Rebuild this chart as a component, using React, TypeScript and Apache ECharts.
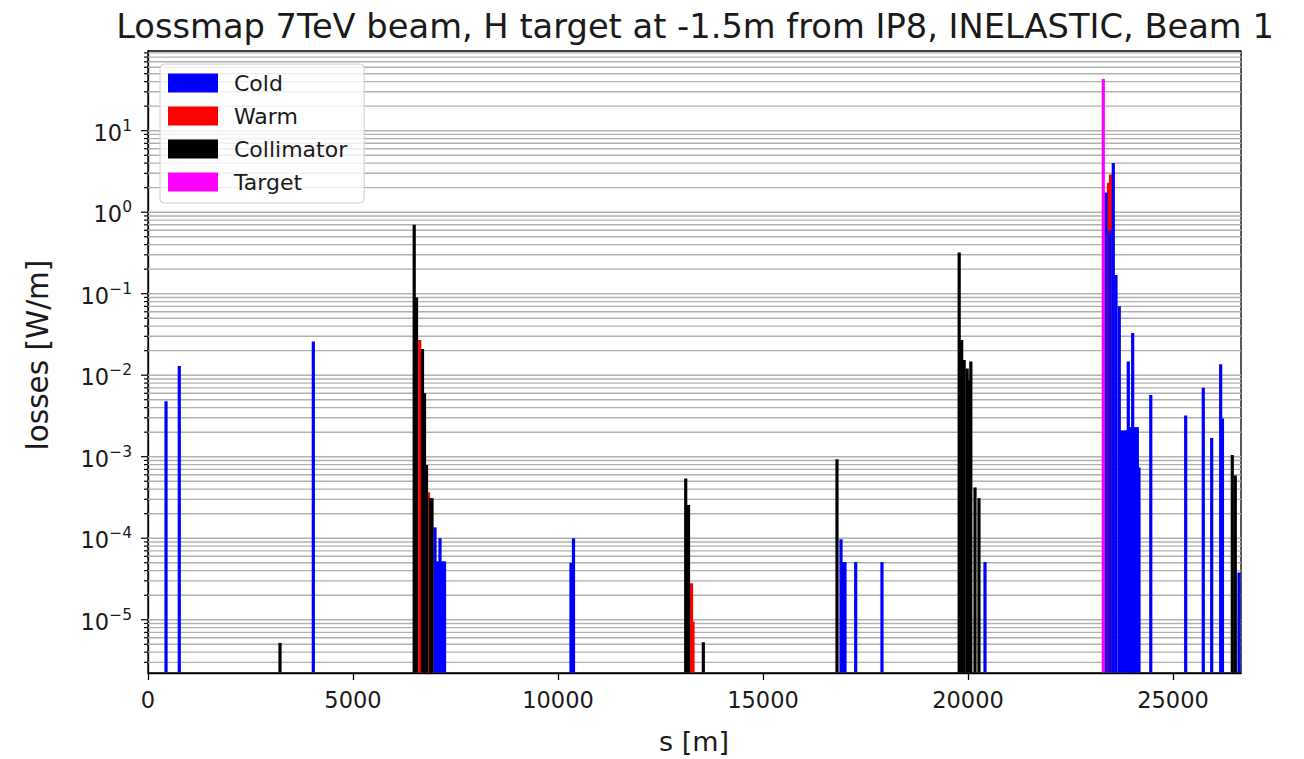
import React, { useEffect, useRef } from 'react';
import * as echarts from 'echarts';

const TITLE = 'Lossmap 7TeV beam, H target at -1.5m from IP8, INELASTIC, Beam 1';
const X_NAME = 's [m]';
const Y_NAME = 'losses [W/m]';
const X_TICKS = [0, 5000, 10000, 15000, 20000, 25000];
const Y_EXPONENTS = [-5, -4, -3, -2, -1, 0, 1];
const Y_MINOR_FACTORS = [2, 3, 4, 5, 6, 7, 8, 9];
const X_MAX = 26659;
const Y_MIN = 2.22e-6;
const Y_MAX = 95;

const LEGEND = ['Cold', 'Warm', 'Collimator', 'Target'];

const coldS = [440, 763, 4032, 7000, 7061, 7122, 7183, 7232, 10317, 10378, 16903, 16939, 17000, 17261, 17902, 20415,
  23366, 23463, 23544, 23610, 23690, 23730, 23790, 23850, 23880, 23910, 23945, 23985, 24017, 24050, 24090, 24130, 24171, 24458,
  25310, 25739, 25944, 26163, 26207, 26610];
const coldV = [4.8e-3, 1.3e-2, 2.6e-2, 1.36e-4, 5.2e-5, 1.0e-4, 5.2e-5, 5.2e-5, 5.0e-5, 1.0e-4, 9.7e-5, 5.1e-5, 5.1e-5, 5.1e-5, 5.1e-5, 5.1e-5,
  1.75, 0.6, 4.0, 0.17, 0.07, 2.1e-3, 2.1e-3, 2.1e-3, 2.1e-3, 1.47e-2, 2.3e-3, 2.3e-3, 3.3e-2, 2.3e-3, 2.3e-3, 2.3e-3, 7.4e-4, 5.7e-3,
  3.2e-3, 7.0e-3, 1.7e-3, 1.36e-2, 2.95e-3, 3.8e-5];

const warmS = [6627, 6841, 13256, 13293, 23427, 23476];
const warmV = [0.027, 3.66e-4, 2.8e-5, 9.5e-6, 2.3, 2.9];

const collS = [3220, 6493, 6549, 6695, 6744, 6793, 6890, 6927, 13115, 13183, 13545, 16805,
  19785, 19846, 19907, 19980, 20025, 20069, 20171, 20268, 26446, 26520];
const collV = [5.2e-6, 0.70, 0.09, 0.021, 6.0e-3, 7.9e-4, 3.1e-4, 3.1e-4, 5.4e-4, 2.55e-4, 5.3e-6, 9.3e-4,
  0.32, 0.027, 0.0154, 0.0121, 8.7e-3, 0.0147, 4.2e-4, 3.1e-4, 1.05e-3, 5.9e-4];

const targetS = [23300];
const targetV = [43];

const COLORS = { Cold: '#0000ff', Warm: '#ff0000', Collimator: '#000000', Target: '#ff00ff' };
const FONT = 'DejaVu Sans';
const TEXT = '#1a1a1a';
const BAR_PX = 3.2;

const zip = (s: number[], v: number[]) => s.map((x, i) => [x, v[i]]);

function barRenderer(color: string) {
  return (params: any, api: any) => {
    const s = api.value(0);
    const v = api.value(1);
    const top = api.coord([s, v]);
    const cs = params.coordSys;
    const bottom = cs.y + cs.height - 0.6;
    return {
      type: 'rect',
      shape: { x: top[0] - BAR_PX / 2, y: top[1], width: BAR_PX, height: Math.max(0, bottom - top[1]) },
      style: { fill: color },
    };
  };
}

function buildYTicks() {
  const out: number[][] = [];
  const exps = [Y_EXPONENTS[0] - 1, ...Y_EXPONENTS];
  for (const e of exps) {
    for (const f of [1, ...Y_MINOR_FACTORS]) {
      const v = f * Math.pow(10, e);
      if (v >= Y_MIN && v <= Y_MAX) out.push([0, v, f === 1 ? 1 : 0, e]);
    }
  }
  return out;
}

export default function App() {
  const ref = useRef<HTMLDivElement>(null);
  useEffect(() => {
    if (!ref.current) return;
    const chart = echarts.init(ref.current, null, { renderer: 'svg' });
    const makeSeries = (name: string, data: number[][], z: number) => ({
      name,
      type: 'custom',
      coordinateSystem: 'cartesian2d',
      renderItem: barRenderer((COLORS as any)[name]),
      itemStyle: { color: (COLORS as any)[name] },
      data,
      z,
      silent: true,
    });
    const option: any = {
      animation: false,
      backgroundColor: '#ffffff',
      grid: {
        left: 148, top: 51, width: 1093, height: 622,
        show: true, borderColor: '#000', borderWidth: 1.3, backgroundColor: '#fff',
      },
      legend: {
        data: LEGEND,
        orient: 'vertical',
        left: 160,
        top: 64,
        itemWidth: 50,
        itemHeight: 19,
        itemGap: 11,
        icon: 'rect',
        backgroundColor: 'rgba(255,255,255,0.8)',
        borderColor: '#cccccc',
        borderWidth: 1,
        borderRadius: 4,
        padding: [8, 17, 10, 8],
        selectedMode: false,
        textStyle: { fontSize: 22, fontFamily: FONT, color: TEXT, padding: [0, 0, 0, 11] },
      },
      xAxis: {
        type: 'value',
        min: 0,
        max: X_MAX,
        interval: 5000,
        axisLine: { show: true, lineStyle: { color: '#000', width: 1.3 } },
        axisTick: { show: true, length: 7, inside: false, lineStyle: { color: '#000', width: 1.3 }, customValues: X_TICKS },
        axisLabel: {
          fontSize: 22.5, fontFamily: FONT, color: TEXT, margin: 15, customValues: X_TICKS,
          formatter: (v: number) => String(Math.round(v)),
        },
        splitLine: { show: false },
      },
      yAxis: {
        type: 'log',
        logBase: 10,
        min: Y_MIN,
        max: Y_MAX,
        axisLine: { show: true, lineStyle: { color: '#000', width: 1.3 } },
        axisTick: { show: false },
        axisLabel: { show: false },
        splitLine: { show: false },
        minorTick: { show: false },
      },
      graphic: [
        { type: 'text', x: 695, y: 26, style: { text: TITLE, fontSize: 33.7, fontFamily: FONT, fill: TEXT, align: 'center', verticalAlign: 'middle' } },
        { type: 'text', x: 694, y: 741, style: { text: X_NAME, fontSize: 27, fontFamily: FONT, fill: TEXT, align: 'center', verticalAlign: 'middle' } },
        { type: 'text', x: 38, y: 355, rotation: Math.PI / 2, style: { text: Y_NAME, fontSize: 29.5, fontFamily: FONT, fill: TEXT, align: 'center', verticalAlign: 'middle' } },
      ],
      series: [
        {
          name: 'yticks',
          type: 'custom',
          coordinateSystem: 'cartesian2d',
          silent: true,
          clip: false,
          z: 1,
          data: buildYTicks(),
          renderItem: (params: any, api: any) => {
            const v = api.value(1);
            const major = api.value(2) === 1;
            const e = api.value(3);
            const p = api.coord([0, v]);
            const cs = params.coordSys;
            const y = p[1];
            const children: any[] = [
              { type: 'line', shape: { x1: cs.x, y1: y, x2: cs.x + cs.width, y2: y }, style: { stroke: '#b0b0b0', lineWidth: 1.4 } },
              { type: 'line', shape: { x1: cs.x - (major ? 7 : 4), y1: y, x2: cs.x, y2: y }, style: { stroke: '#000', lineWidth: 1.2 } },
            ];
            if (major) {
              const expText = e < 0 ? '\u2212' + String(-e) : String(e);
              children.push({
                type: 'text',
                x: cs.x - 16,
                y: y + 2,
                style: {
                  text: '{b|10}{s|' + expText + '}',
                  align: 'right',
                  verticalAlign: 'middle',
                  rich: {
                    b: { fontSize: 22.5, fontFamily: FONT, fill: TEXT, lineHeight: 30, verticalAlign: 'middle' },
                    s: { fontSize: 15.5, fontFamily: FONT, fill: TEXT, lineHeight: 10, verticalAlign: 'top' },
                  },
                },
              });
            }
            return { type: 'group', children };
          },
        },
        makeSeries('Cold', zip(coldS, coldV), 4),
        makeSeries('Warm', zip(warmS, warmV), 3),
        makeSeries('Collimator', zip(collS, collV), 5),
        makeSeries('Target', zip(targetS, targetV), 6),
      ],
    };
    chart.setOption(option);
    return () => chart.dispose();
  }, []);
  return <div ref={ref} style={{ position: 'fixed', left: 0, top: 0, width: 1304, height: 759 }} />;
}
